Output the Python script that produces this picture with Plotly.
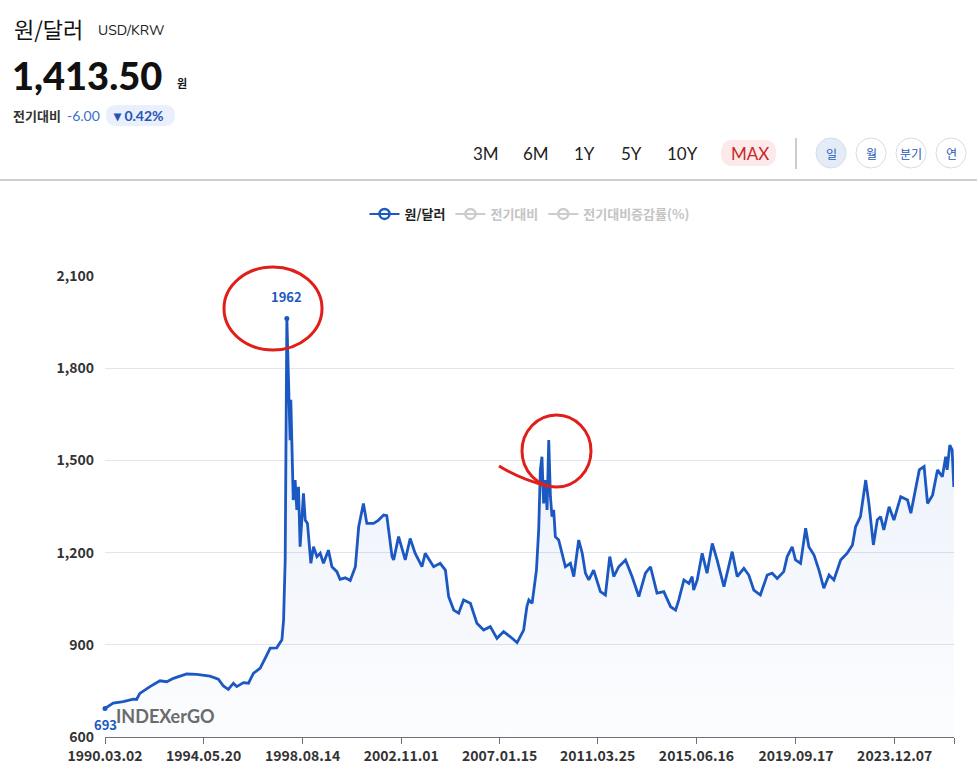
import plotly.graph_objects as go

# daily USD/KRW close
dates = [
    "1990-03-02", "1990-07-08", "1990-12-12", "1991-05-18", "1991-07-08", "1991-08-28",
    "1992-02-02", "1992-07-08", "1992-10-22", "1993-02-03", "1993-08-29", "1994-02-02",
    "1994-08-28", "1995-01-05", "1995-03-25", "1995-06-10", "1995-08-28", "1995-10-20",
    "1996-02-02", "1996-04-20", "1996-07-05", "1996-10-20", "1997-01-05", "1997-03-25",
    "1997-07-05", "1997-09-24", "1997-10-20", "1997-11-14", "1997-12-10",
    "1998-01-05", "1998-01-18", "1998-01-30", "1998-02-10", "1998-02-25", "1998-03-10",
    "1998-03-20", "1998-04-18", "1998-05-15", "1998-06-10", "1998-07-05", "1998-08-01",
    "1998-08-26", "1998-09-23", "1998-10-28", "1998-12-20", "1999-01-30", "1999-03-25",
    "1999-05-15", "1999-07-05", "1999-09-20", "1999-11-14", "2000-01-30", "2000-03-20",
    "2000-06-10", "2000-08-26", "2000-11-14", "2001-01-05", "2001-03-20", "2001-05-12",
    "2001-08-25", "2001-11-07", "2002-01-30", "2002-03-20", "2002-06-10", "2002-07-05",
    "2002-09-20", "2003-01-02", "2003-03-20", "2003-06-05", "2003-09-20", "2003-11-10",
    "2004-03-20", "2004-07-01", "2004-09-20", "2004-11-10", "2005-01-28", "2005-04-15",
    "2005-07-01", "2005-10-15", "2006-01-25", "2006-05-10", "2006-08-22", "2006-12-05",
    "2007-03-18", "2007-07-01", "2007-10-15", "2008-01-25", "2008-03-15", "2008-04-15",
    "2008-06-05", "2008-08-12", "2008-09-16", "2008-10-12", "2008-11-06", "2008-12-02",
    "2008-12-28", "2009-01-25", "2009-02-20", "2009-03-18", "2009-04-12", "2009-05-08",
    "2009-06-03", "2009-07-25", "2009-09-16", "2009-11-07", "2010-01-25", "2010-03-18",
    "2010-06-03", "2010-07-28", "2010-09-16", "2010-11-07", "2011-01-22", "2011-05-08",
    "2011-07-25", "2011-10-01", "2011-12-02", "2012-02-18", "2012-06-03", "2012-09-13",
    "2012-12-28", "2013-04-10", "2013-06-28", "2013-10-08", "2014-01-22", "2014-05-08",
    "2014-07-25", "2014-09-13", "2014-12-02", "2015-02-18", "2015-04-10", "2015-05-03",
    "2015-06-28", "2015-09-13", "2015-11-28", "2016-02-18", "2016-05-03", "2016-08-18",
    "2016-12-25", "2017-03-13", "2017-06-25", "2017-09-10", "2017-11-28", "2018-03-10",
    "2018-06-25", "2018-09-10", "2018-11-28", "2019-03-10", "2019-05-03", "2019-07-20",
    "2019-09-10", "2019-11-28", "2020-02-15", "2020-04-05", "2020-06-25", "2020-09-10",
    "2020-11-25", "2021-02-15", "2021-05-01", "2021-08-15", "2021-11-25", "2022-02-15",
    "2022-04-05", "2022-06-20", "2022-09-10", "2022-10-30", "2023-01-08", "2023-03-10",
    "2023-05-01", "2023-06-20", "2023-09-10", "2023-11-25", "2024-03-10", "2024-06-25",
    "2024-08-15", "2024-10-30", "2024-12-25", "2025-03-10", "2025-05-03", "2025-07-20",
    "2025-10-05", "2025-12-20", "2026-02-10", "2026-03-05", "2026-04-15", "2026-05-22",
    "2026-06-17",
]
krw = [
    693, 710, 715, 723, 722, 742,
    764, 783, 780, 791, 805, 804,
    798, 788, 766, 755, 775, 764,
    777, 775, 807, 824, 856, 889,
    890, 916, 981, 1176, 1962,
    1751, 1697, 1566, 1697, 1534, 1458,
    1371, 1436, 1339, 1414, 1219, 1306,
    1393, 1306, 1295, 1165, 1219, 1187,
    1198, 1165, 1208, 1154, 1138, 1113,
    1118, 1109, 1154, 1284, 1360, 1295,
    1295, 1305, 1322, 1320, 1187, 1176,
    1252, 1176, 1246, 1198, 1154, 1198,
    1154, 1165, 1143, 1057, 1013, 1003,
    1046, 1035, 970, 948, 959, 921,
    943, 926, 907, 948, 1024, 1046,
    1035, 1143, 1274, 1469, 1512, 1360,
    1436, 1339, 1566, 1382, 1317, 1339,
    1252, 1241, 1198, 1154, 1165, 1122,
    1241, 1198, 1133, 1111, 1143, 1073,
    1062, 1187, 1122, 1154, 1176, 1122,
    1057, 1133, 1154, 1068, 1073, 1024,
    1013, 1046, 1111, 1100, 1122, 1078,
    1111, 1198, 1133, 1230, 1176, 1089,
    1203, 1122, 1149, 1127, 1078, 1062,
    1127, 1133, 1116, 1138, 1187, 1219,
    1176, 1165, 1279, 1219, 1192, 1143,
    1084, 1127, 1111, 1176, 1198, 1225,
    1284, 1317, 1436, 1360, 1225, 1306,
    1317, 1274, 1349, 1306, 1382, 1371,
    1328, 1415, 1469, 1480, 1360, 1387,
    1469, 1447, 1512, 1469, 1550, 1534,
    1413.5,
]

tick_dates = ["1990-03-02", "1994-05-20", "1998-08-14", "2002-11-01", "2007-01-15",
              "2011-03-25", "2015-06-16", "2019-09-17", "2023-12-07", "2026-06-20"]
tick_labels = ["1990.03.02", "1994.05.20", "1998.08.14", "2002.11.01", "2007.01.15",
               "2011.03.25", "2015.06.16", "2019.09.17", "2023.12.07", ""]
y_ticks = [600, 900, 1200, 1500, 1800, 2100]

legend_names = ["원/달러", "전기대비", "전기대비증감률(%)"]
periods = ["3M", "6M", "1Y", "5Y", "10Y", "MAX"]
intervals = ["일", "월", "분기", "연"]

BLUE = "#1c58c2"
KR = "Noto Sans CJK KR"

# plot area in page pixels, used to place the header bits
L, R, T, B = 105, 954, 276, 737


def px(x):
    return (x - L) / (R - L)


def py(y):
    return (B - y) / (B - T)


def rounded(x0, y0, x1, y1, r):
    pts = [("M", x0 + r, y0), ("L", x1 - r, y0), ("Q", x1, y0, x1, y0 + r),
           ("L", x1, y1 - r), ("Q", x1, y1, x1 - r, y1), ("L", x0 + r, y1),
           ("Q", x0, y1, x0, y1 - r), ("L", x0, y0 + r), ("Q", x0, y0, x0 + r, y0)]
    out = []
    for p in pts:
        coords = []
        for i in range(1, len(p), 2):
            coords.append(f"{px(p[i]):.5f},{py(p[i + 1]):.5f}")
        out.append(p[0] + " " + " ".join(coords))
    return " ".join(out) + " Z"


fig = go.Figure()

fig.add_trace(go.Scatter(
    x=dates, y=krw, mode="lines", showlegend=False, hoverinfo="x+y",
    line=dict(color=BLUE, width=2.8),
    fill="tozeroy",
    fillgradient=dict(type="vertical", start=600, stop=1962,
                      colorscale=[[0, "rgba(28,88,194,0.015)"], [1, "rgba(28,88,194,0.10)"]]),
))

# max / min points
i_max = krw.index(max(krw))
i_min = krw.index(min(krw))
fig.add_trace(go.Scatter(
    x=[dates[i_max], dates[i_min]], y=[krw[i_max], krw[i_min]], mode="markers",
    showlegend=False, cliponaxis=False, marker=dict(color=BLUE, size=5),
))

# legend entries
for k, name in enumerate(legend_names):
    c = BLUE if k == 0 else "#cccccc"
    tc = "#222222" if k == 0 else "#c4c4c4"
    fig.add_trace(go.Scatter(
        x=[None], y=[None], mode="lines+markers", name=f"<span style='color:{tc}'>{name}</span>",
        line=dict(color=c, width=2),
        marker=dict(symbol="circle-open", size=10, color=c, line=dict(width=2.5)),
    ))

ann = []
shapes = []

# header
ann.append(dict(x=px(12), y=py(28), text="원/달러", font=dict(family=KR, size=22, color="#111")))
ann.append(dict(x=px(96), y=py(31), text="USD/KRW", font=dict(family="Nunito, Lato", size=14, color="#222")))
ann.append(dict(x=px(10), y=py(75), text="1,413.50", font=dict(family="Lato", size=38, color="#111", weight=900)))
ann.append(dict(x=px(175), y=py(83), text="원", font=dict(family=KR, size=11, color="#111", weight="bold")))
ann.append(dict(x=px(11), y=py(115), text="전기대비", font=dict(family=KR, size=13, color="#333", weight="bold")))
ann.append(dict(x=px(65), y=py(115), text="-6.00", font=dict(family="Lato", size=14, color="#3d6fcf")))
shapes.append(dict(type="path", path=rounded(106, 105, 175, 126, 10), fillcolor="#e9effb", line=dict(width=0)))
ann.append(dict(x=px(111), y=py(115), text="▾ 0.42%", font=dict(family="Lato", size=14, color="#2455b5", weight="bold")))

# period buttons
period_x = [471, 521, 572, 619, 665, 729]
shapes.append(dict(type="path", path=rounded(721, 140, 776, 166, 12), fillcolor="#fde9e9", line=dict(width=0)))
for lab, xx in zip(periods, period_x):
    col = "#c62828" if lab == "MAX" else "#222"
    ann.append(dict(x=px(xx), y=py(153), text=lab, font=dict(family="Lato", size=17, color=col)))
shapes.append(dict(type="line", x0=px(796), x1=px(796), y0=py(138), y1=py(169), line=dict(color="#999", width=1)))
for k, (lab, cx) in enumerate(zip(intervals, [831, 871, 911, 951])):
    fill = "#e4ecf8" if k == 0 else "white"
    shapes.append(dict(type="circle", x0=px(cx - 15), x1=px(cx + 15), y0=py(168), y1=py(138),
                       fillcolor=fill, line=dict(color="#d6dde8", width=1)))
    ann.append(dict(x=px(cx), y=py(153), text=lab, xanchor="center",
                    font=dict(family=KR, size=12, color="#2a5bb5")))
shapes.append(dict(type="line", x0=px(0), x1=px(977), y0=py(180), y1=py(180), line=dict(color="#cfcfcf", width=2)))

# watermark
ann.append(dict(x=px(114), y=py(716), text="INDEXerGO", font=dict(family="Lato", size=18, color="#6b6b6b", weight="bold")))

for a in ann:
    a.setdefault("xanchor", "left")
    a.update(xref="paper", yref="paper", yanchor="middle", showarrow=False)

# max / min value labels, on the data scale
ann.append(dict(x=dates[i_max], y=krw[i_max], text=f"{krw[i_max]:.0f}", showarrow=False,
                yshift=22, font=dict(family=KR, size=13, color=BLUE, weight="bold")))
ann.append(dict(x=dates[i_min], y=krw[i_min], text=f"{krw[i_min]:.0f}", showarrow=False,
                yshift=-16, font=dict(family=KR, size=13, color=BLUE, weight="bold")))

# red hand-drawn circles
RED = "#e01f1a"
shapes.append(dict(type="circle", x0=px(224), x1=px(322), y0=py(350), y1=py(267), line=dict(color=RED, width=3)))
shapes.append(dict(type="circle", x0=px(522), x1=px(591), y0=py(487), y1=py(415), line=dict(color=RED, width=3)))
shapes.append(dict(type="path", path=f"M {px(499)},{py(466)} Q {px(522)},{py(480)} {px(548)},{py(486)}",
                   line=dict(color=RED, width=3)))

for s in shapes:
    s.update(xref="paper", yref="paper")

fig.update_layout(
    width=977, height=770,
    margin=dict(l=L, r=977 - R, t=T, b=770 - B),
    paper_bgcolor="white", plot_bgcolor="white",
    font=dict(family=KR, color="#333"),
    annotations=ann, shapes=shapes,
    legend=dict(orientation="h", x=0.5, xanchor="center", y=py(214), yanchor="middle",
                font=dict(family=KR, size=13, weight="bold"), itemwidth=30,
                bgcolor="rgba(0,0,0,0)"),
    xaxis=dict(type="date", range=["1990-03-02", "2026-06-20"], tickvals=tick_dates, ticktext=tick_labels,
               showgrid=False, showline=True, linecolor="#6e7079", linewidth=1,
               ticks="outside", ticklen=6, tickcolor="#6e7079", automargin=False,
               tickfont=dict(family=KR, size=14, color="#333", weight="bold")),
    yaxis=dict(range=[600, 2100], tickvals=y_ticks, tickformat=",d",
               showgrid=True, gridcolor="#e0e6f1", zeroline=False, showline=False,
               ticks="", ticklabelstandoff=10, automargin=False,
               tickfont=dict(family=KR, size=14, color="#333", weight="bold")),
)

fig.write_html("out.html", config={"displayModeBar": False},
               post_script="document.body.style.margin='0';")
